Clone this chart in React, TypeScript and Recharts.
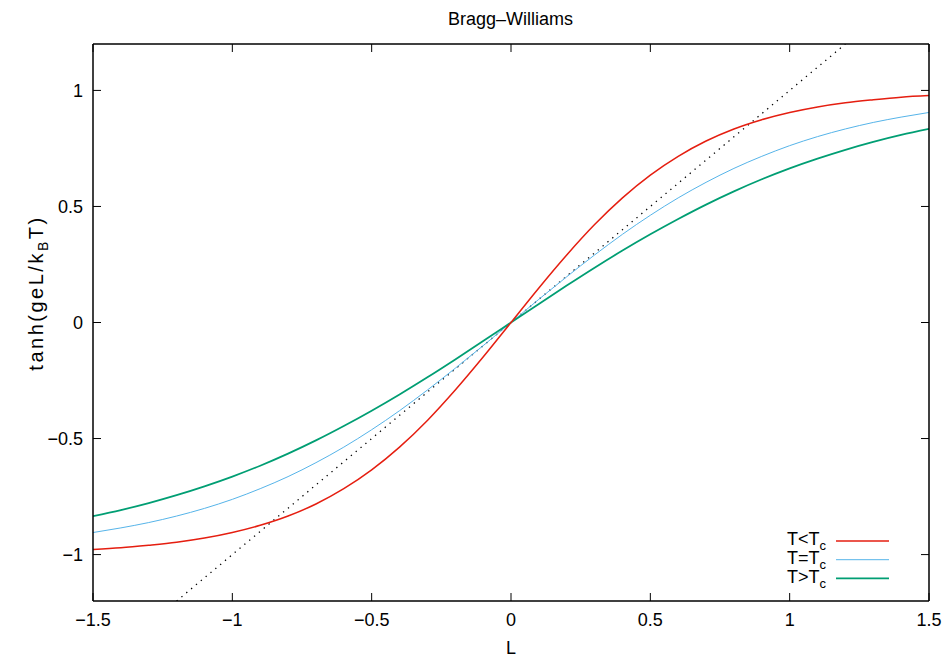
import { LineChart, Line, XAxis, YAxis } from 'recharts'

// L sampled every 0.1 over the plotted range
const lValues = [
  -1.5, -1.4, -1.3, -1.2, -1.1, -1.0, -0.9, -0.8, -0.7, -0.6, -0.5, -0.4, -0.3, -0.2, -0.1, 0,
  0.1, 0.2, 0.3, 0.4, 0.5, 0.6, 0.7, 0.8, 0.9, 1.0, 1.1, 1.2, 1.3, 1.4, 1.5,
]

// T < Tc
const belowTc = [
  -0.978, -0.971, -0.96, -0.947, -0.929, -0.905, -0.874, -0.834, -0.782, -0.716, -0.635, -0.537, -0.422, -0.291, -0.149, 0,
  0.149, 0.291, 0.422, 0.537, 0.635, 0.716, 0.782, 0.834, 0.874, 0.905, 0.929, 0.947, 0.96, 0.971, 0.978,
]

// T = Tc
const atTc = [
  -0.905, -0.885, -0.862, -0.834, -0.801, -0.762, -0.716, -0.664, -0.604, -0.537, -0.462, -0.38, -0.291, -0.197, -0.1, 0,
  0.1, 0.197, 0.291, 0.38, 0.462, 0.537, 0.604, 0.664, 0.716, 0.762, 0.801, 0.834, 0.862, 0.885, 0.905,
]

// T > Tc
const aboveTc = [
  -0.834, -0.808, -0.778, -0.744, -0.706, -0.664, -0.617, -0.565, -0.508, -0.446, -0.38, -0.31, -0.236, -0.159, -0.08, 0,
  0.08, 0.159, 0.236, 0.31, 0.38, 0.446, 0.508, 0.565, 0.617, 0.664, 0.706, 0.744, 0.778, 0.808, 0.834,
]

// dotted reference line, only inside the y range
const diagonal = [
  null, null, null, -1.2, -1.1, -1.0, -0.9, -0.8, -0.7, -0.6, -0.5, -0.4, -0.3, -0.2, -0.1, 0,
  0.1, 0.2, 0.3, 0.4, 0.5, 0.6, 0.7, 0.8, 0.9, 1.0, 1.1, 1.2, null, null, null,
]

const xTicks = [-1.5, -1, -0.5, 0, 0.5, 1, 1.5]
const yTicks = [-1, -0.5, 0, 0.5, 1]

const data = lValues.map((l, i) => ({
  L: l,
  below: belowTc[i],
  at: atTc[i],
  above: aboveTc[i],
  diag: diagonal[i],
}))

const font = 'Liberation Sans, Arial, sans-serif'
const fmt = (v: number) => (v < 0 ? '\u2212' + Math.abs(v) : String(v))
const axisLine = { stroke: '#000', strokeWidth: 1.5 }
const TICK = 8

// gnuplot-style inward ticks
const BottomTick = (p: any) => (
  <g>
    <line x1={p.x} x2={p.x} y1={p.y} y2={p.y - TICK} stroke="#000" strokeWidth={1} />
    <text x={p.x} y={p.y + 25} textAnchor="middle" fontSize={18} fontFamily={font} fill="#000">
      {fmt(p.payload.value)}
    </text>
  </g>
)
const TopTick = (p: any) => (
  <line x1={p.x} x2={p.x} y1={p.y} y2={p.y + TICK} stroke="#000" strokeWidth={1} />
)
const LeftTick = (p: any) => (
  <g>
    <line x1={p.x} x2={p.x + TICK} y1={p.y} y2={p.y} stroke="#000" strokeWidth={1} />
    <text x={p.x - 10} y={p.y + 6.5} textAnchor="end" fontSize={18} fontFamily={font} fill="#000">
      {fmt(p.payload.value)}
    </text>
  </g>
)
const RightTick = (p: any) => (
  <line x1={p.x - TICK} x2={p.x} y1={p.y} y2={p.y} stroke="#000" strokeWidth={1} />
)

const legendRows = [
  { sign: '<', color: '#e51e10', width: 1.5 },
  { sign: '=', color: '#56b4e9', width: 1 },
  { sign: '>', color: '#009e73', width: 1.75 },
]

export default function App() {
  return (
    <div style={{ position: 'absolute', left: 0, top: 0, width: 949, height: 660, background: '#fff' }}>
      <LineChart
        width={949}
        height={660}
        data={data}
        margin={{ top: 43, right: 19, bottom: 0, left: 0 }}
      >
        <XAxis
          xAxisId="b"
          dataKey="L"
          type="number"
          domain={[-1.5, 1.5]}
          ticks={xTicks}
          height={59}
          tickSize={0}
          tickMargin={0}
          tickLine={false}
          tick={BottomTick}
          axisLine={axisLine}
          allowDataOverflow
        />
        <XAxis
          xAxisId="t"
          orientation="top"
          dataKey="L"
          type="number"
          domain={[-1.5, 1.5]}
          ticks={xTicks}
          height={1}
          tickSize={0}
          tickMargin={0}
          tickLine={false}
          tick={TopTick}
          axisLine={axisLine}
          allowDataOverflow
        />
        <YAxis
          yAxisId="l"
          type="number"
          domain={[-1.2, 1.2]}
          ticks={yTicks}
          width={93}
          tickSize={0}
          tickMargin={0}
          tickLine={false}
          tick={LeftTick}
          axisLine={axisLine}
          allowDataOverflow
        />
        <YAxis
          yAxisId="r"
          orientation="right"
          type="number"
          domain={[-1.2, 1.2]}
          ticks={yTicks}
          width={1}
          tickSize={0}
          tickMargin={0}
          tickLine={false}
          tick={RightTick}
          axisLine={axisLine}
          allowDataOverflow
        />
        <Line
          xAxisId="b"
          yAxisId="l"
          dataKey="diag"
          type="linear"
          stroke="#000"
          strokeWidth={1.3}
          strokeDasharray="1.3 5"
          dot={false}
          isAnimationActive={false}
        />
        <Line
          xAxisId="b"
          yAxisId="l"
          dataKey="at"
          type="monotone"
          stroke="#56b4e9"
          strokeWidth={1}
          dot={false}
          isAnimationActive={false}
        />
        <Line
          xAxisId="b"
          yAxisId="l"
          dataKey="above"
          type="monotone"
          stroke="#009e73"
          strokeWidth={1.75}
          dot={false}
          isAnimationActive={false}
        />
        <Line
          xAxisId="b"
          yAxisId="l"
          dataKey="below"
          type="monotone"
          stroke="#e51e10"
          strokeWidth={1.5}
          dot={false}
          isAnimationActive={false}
        />
      </LineChart>
      <svg
        width={949}
        height={660}
        style={{ position: 'absolute', left: 0, top: 0, pointerEvents: 'none' }}
        fontFamily={font}
        fill="#000"
      >
        <text x={510.5} y={25} textAnchor="middle" fontSize={18}>
          Bragg–Williams
        </text>
        <text x={511} y={654} textAnchor="middle" fontSize={18}>
          L
        </text>
        <text
          transform="translate(43,293) rotate(-90)"
          textAnchor="middle"
          fontSize={20}
          letterSpacing={2.5}
        >
          tanh(geL/k<tspan dy={5} fontSize={14}>B</tspan>
          <tspan dy={-5}>T)</tspan>
        </text>
        {legendRows.map((r, i) => (
          <g key={r.sign}>
            <text x={826} y={545 + i * 19} textAnchor="end" fontSize={18}>
              {'T' + r.sign + 'T'}
              <tspan dy={5} fontSize={13}>c</tspan>
            </text>
            <line x1={836} x2={889} y1={541 + i * 18.7} y2={541 + i * 18.7} stroke={r.color} strokeWidth={r.width} />
          </g>
        ))}
      </svg>
    </div>
  )
}
